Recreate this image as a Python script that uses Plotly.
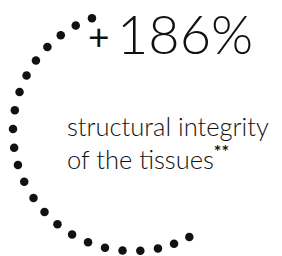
import plotly.graph_objects as go

# ---- data ----
dot_angles = [110, 118.5, 127, 135.5, 144, 152.5, 161, 170, 179, 188, 196.5,
              205, 214, 222.5, 231, 239.5, 248, 256.5, 265, 273.5, 282, 290, 298]
dot_radius = [1] * len(dot_angles)
big_value = "186%"
prefix = "+"
label_lines = ["structural integrity", "of the tissues"]
footnote = "**"

W, H = 282, 256

fig = go.Figure()
fig.add_trace(go.Scatterpolar(
    r=dot_radius, theta=dot_angles, mode="markers",
    marker=dict(size=8.5, color="#111111"),
    cliponaxis=False, hoverinfo="skip", showlegend=False,
))

fig.update_layout(
    width=W, height=H,
    margin=dict(l=0, r=0, t=0, b=0),
    paper_bgcolor="white", plot_bgcolor="white",
    polar=dict(
        domain=dict(x=[5 / W, 245 / W], y=[13 / H, 253 / H]),
        bgcolor="rgba(0,0,0,0)",
        radialaxis=dict(range=[0, 1], visible=False, showgrid=False),
        angularaxis=dict(visible=False, showgrid=False, direction="counterclockwise", rotation=0),
    ),
)

def px(x, y):
    return x / W, 1 - y / H

ax, ay = px(107, 24.5)
fig.add_annotation(x=ax, y=ay, xref="paper", yref="paper", xanchor="left", yanchor="middle",
                   text=big_value, showarrow=False, height=48, valign="middle",
                   font=dict(family="Lato", size=54, color="#111111", weight=300))
ax, ay = px(78, 52)
fig.add_annotation(x=ax, y=ay, xref="paper", yref="paper", xanchor="left", yanchor="bottom",
                   text=prefix, showarrow=False,
                   font=dict(family="Lato", size=37, color="#111111", weight=400))

ax, ay = px(57, 101)
fig.add_annotation(x=ax, y=ay, xref="paper", yref="paper", xanchor="left", yanchor="top",
                   text=label_lines[0] + "<br>" + label_lines[1] + "<sup><b>" + footnote + "</b></sup>",
                   align="left", showarrow=False,
                   font=dict(family="Lato", size=25.5, color="#111111", weight=300))

fig.write_html("out.html")
